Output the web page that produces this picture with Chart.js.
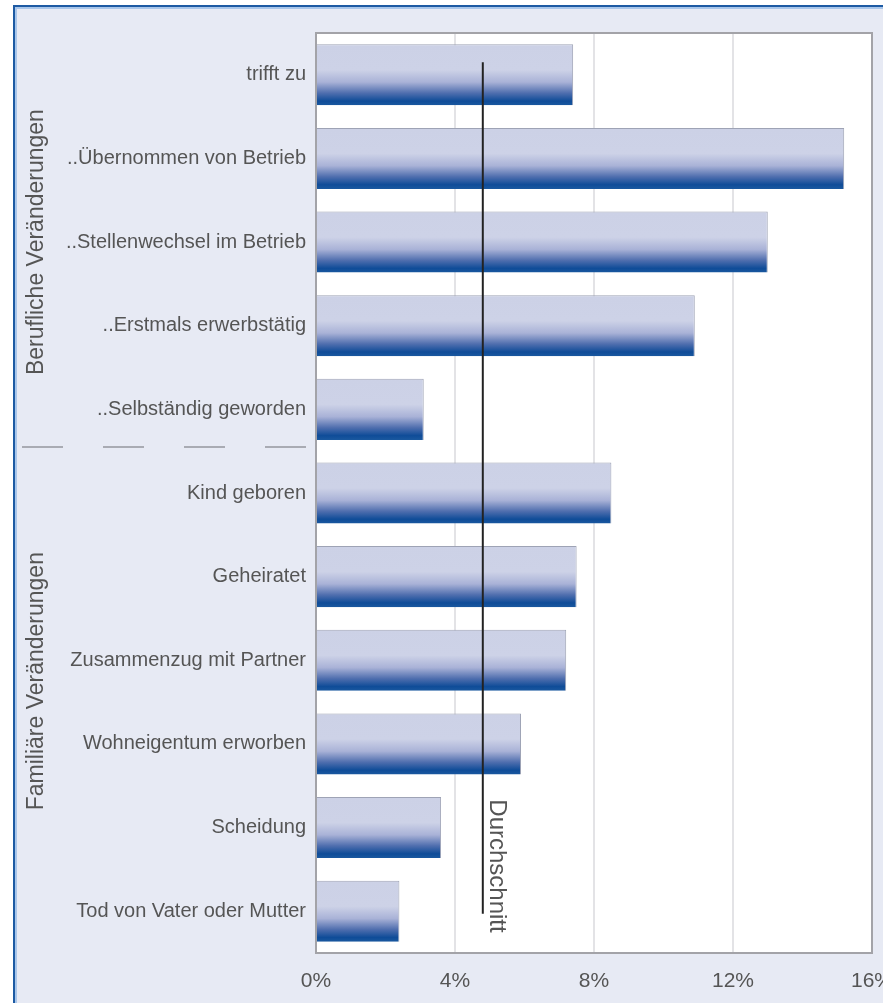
<!DOCTYPE html>
<html>
<head>
<meta charset="utf-8">
<script src="https://cdn.jsdelivr.net/npm/chart.js@4.4.1/dist/chart.umd.min.js"></script>
<style>
  html, body { margin: 0; padding: 0; background: #ffffff; }
  #frame { position: absolute; left: 13px; top: 5px; width: 900px; height: 1020px;
           background: #e7eaf4; border-left: 2px solid #1d5aa3; border-top: 2px solid #1d5aa3;
           box-shadow: inset 2px 2px 0 #a9c6ea; }
  #wrap { position: absolute; left: 0; top: 0; width: 883px; height: 1003px; }
</style>
</head>
<body>
<div id="frame"></div>
<div id="wrap"><canvas id="c" width="883" height="1003"></canvas></div>
<script>
const categories = [
  "trifft zu",
  "..Übernommen von Betrieb",
  "..Stellenwechsel im Betrieb",
  "..Erstmals erwerbstätig",
  "..Selbständig geworden",
  "Kind geboren",
  "Geheiratet",
  "Zusammenzug mit Partner",
  "Wohneigentum erworben",
  "Scheidung",
  "Tod von Vater oder Mutter"
];
const values = [7.4, 15.2, 13.0, 10.9, 3.1, 8.5, 7.5, 7.2, 5.9, 3.6, 2.4];
const average = 4.8;
const averageLabel = "Durchschnitt";
const xTicks = [0, 4, 8, 12, 16];
const groups = [
  { label: "Berufliche Veränderungen", center: 2.0 },
  { label: "Familiäre Veränderungen", center: 7.25 }
];
const separatorAt = 4.45;

const FONT = "'Liberation Sans', Arial, Helvetica, sans-serif";
const TEXT = "#555555";
const BAR_PCT = 0.73;

function barGradient(ctx) {
  const chart = ctx.chart;
  const y = chart.scales.y;
  if (!y || !chart.chartArea) return '#a8b2d8';
  const c = y.getPixelForValue(ctx.dataIndex);
  const row = Math.abs(y.getPixelForValue(1) - y.getPixelForValue(0));
  const h = row * BAR_PCT;
  const top = c - h / 2, bot = c + h / 2;
  const g = chart.ctx.createLinearGradient(0, top, 0, bot);
  g.addColorStop(0.0, '#ccd1e6');
  g.addColorStop(0.42, '#cdd2e7');
  g.addColorStop(0.62, '#a9b2d7');
  g.addColorStop(0.80, '#4f6eae');
  g.addColorStop(0.93, '#0f4c98');
  g.addColorStop(1.0, '#1a589f');
  return g;
}

const decor = {
  id: 'decor',
  afterDatasetsDraw(chart) {
    const { ctx, scales: { x, y } } = chart;
    const ax = x.getPixelForValue(average);
    const yTop = y.getPixelForValue(-0.15);
    const yBot = y.getPixelForValue(10.03);
    ctx.save();
    ctx.strokeStyle = '#222222';
    ctx.lineWidth = 2;
    ctx.beginPath();
    ctx.moveTo(ax, yTop);
    ctx.lineTo(ax, yBot);
    ctx.stroke();
    ctx.translate(ax + 7, yBot + 19);
    ctx.rotate(Math.PI / 2);
    ctx.fillStyle = TEXT;
    ctx.font = "24px " + FONT;
    ctx.textAlign = 'right';
    ctx.textBaseline = 'alphabetic';
    ctx.fillText(averageLabel, 0, 0);
    ctx.restore();
  },
  afterDraw(chart) {
    const { ctx, chartArea: a, scales: { y } } = chart;
    ctx.save();
    ctx.strokeStyle = '#a3a3a8';
    ctx.lineWidth = 2;
    ctx.strokeRect(a.left, a.top, a.right - a.left, a.bottom - a.top);
    ctx.fillStyle = TEXT;
    ctx.font = "23px " + FONT;
    ctx.textAlign = 'center';
    ctx.textBaseline = 'middle';
    groups.forEach(g => {
      ctx.save();
      ctx.translate(37, y.getPixelForValue(g.center));
      ctx.rotate(-Math.PI / 2);
      ctx.fillText(g.label, 0, 0);
      ctx.restore();
    });
    const sy = y.getPixelForValue(separatorAt);
    ctx.strokeStyle = '#a9abb3';
    ctx.lineWidth = 2;
    ctx.setLineDash([41, 40]);
    ctx.beginPath();
    ctx.moveTo(22, sy);
    ctx.lineTo(308, sy);
    ctx.stroke();
    ctx.restore();
  }
};

const whiteBg = {
  id: 'whiteBg',
  beforeDraw(chart) {
    const { ctx, chartArea: a } = chart;
    ctx.save();
    ctx.fillStyle = '#ffffff';
    ctx.fillRect(a.left, a.top, a.right - a.left, a.bottom - a.top);
    ctx.restore();
  }
};

new Chart(document.getElementById('c'), {
  type: 'bar',
  data: {
    labels: categories,
    datasets: [{
      data: values,
      backgroundColor: barGradient,
      borderColor: '#9ea3b5',
      borderWidth: { top: 1, right: 1, bottom: 0, left: 0 },
      borderSkipped: false,
      categoryPercentage: 1.0,
      barPercentage: BAR_PCT
    }]
  },
  options: {
    indexAxis: 'y',
    responsive: false,
    animation: false,
    devicePixelRatio: 1,
    layout: { padding: { left: 0, right: 11, top: 33, bottom: 0 } },
    plugins: { legend: { display: false }, tooltip: { enabled: false } },
    scales: {
      x: {
        type: 'linear',
        min: 0, max: 16,
        afterBuildTicks(scale) { scale.ticks = xTicks.map(v => ({ value: v })); },
        afterFit(scale) { scale.height = 50; scale.paddingRight = 0; scale.paddingLeft = 0; },
        grid: { color: '#e3e3e6', lineWidth: 2, drawTicks: false },
        border: { display: false },
        ticks: {
          padding: 16,
          color: TEXT,
          font: { family: FONT, size: 21 },
          callback: v => v + '%'
        }
      },
      y: {
        type: 'category',
        afterFit(scale) { scale.width = 316; scale.paddingTop = 0; scale.paddingBottom = 0; },
        grid: { display: false, drawTicks: false },
        border: { display: false },
        ticks: {
          padding: 10,
          color: TEXT,
          font: { family: FONT, size: 20 }
        }
      }
    }
  },
  plugins: [whiteBg, decor]
});
</script>
</body>
</html>
